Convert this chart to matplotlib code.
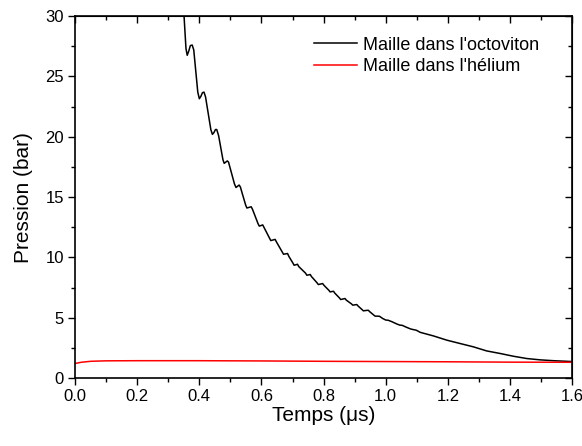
import matplotlib
matplotlib.use("Agg")
import matplotlib.pyplot as plt
from matplotlib.ticker import MultipleLocator, FormatStrFormatter

plt.rcParams['font.family'] = ['Liberation Sans', 'DejaVu Sans']

# Black curve: pressure in the octoviton mesh
octo_t = [0.340, 0.351, 0.357, 0.361, 0.366, 0.371, 0.377, 0.382,
          0.395, 0.400, 0.405, 0.410, 0.415, 0.420,
          0.437, 0.442, 0.447, 0.452, 0.456, 0.462,
          0.476, 0.480, 0.485, 0.490, 0.494,
          0.513, 0.518, 0.523, 0.528, 0.532,
          0.549, 0.553, 0.560, 0.567, 0.571,
          0.589, 0.593, 0.599, 0.604, 0.608,
          0.626, 0.630, 0.637, 0.644, 0.648,
          0.667, 0.671, 0.678, 0.684, 0.688,
          0.701, 0.705, 0.711, 0.716, 0.720,
          0.742, 0.746, 0.752, 0.757, 0.761,
          0.779, 0.783, 0.790, 0.797, 0.801,
          0.817, 0.821, 0.827, 0.832, 0.836,
          0.851, 0.855, 0.862, 0.869, 0.873,
          0.890, 0.894, 0.901, 0.907, 0.911,
          0.924, 0.928, 0.936, 0.944, 0.948,
          0.962, 0.966, 0.973, 0.980,
          0.990, 1.000, 1.008, 1.020, 1.035, 1.045, 1.053, 1.065, 1.080,
          1.090, 1.098, 1.111, 1.154, 1.197, 1.240, 1.282, 1.325, 1.368,
          1.411, 1.454, 1.497, 1.540, 1.600]
octo_p = [32.0, 29.9, 27.3, 26.75, 27.1, 27.55, 27.6, 27.2,
          23.7, 23.15, 23.35, 23.65, 23.7, 23.3,
          20.6, 20.2, 20.35, 20.6, 20.6, 20.1,
          18.1, 17.8, 17.9, 18.0, 17.9,
          16.1, 15.8, 15.9, 16.0, 15.85,
          14.35, 14.1, 14.15, 14.2, 14.0,
          12.8, 12.6, 12.65, 12.7, 12.5,
          11.6, 11.4, 11.45, 11.5, 11.3,
          10.45, 10.27, 10.3, 10.33, 10.1,
          9.55, 9.36, 9.4, 9.44, 9.25,
          8.7, 8.53, 8.56, 8.59, 8.42,
          7.9, 7.76, 7.8, 7.84, 7.7,
          7.28, 7.15, 7.18, 7.2, 7.05,
          6.65, 6.52, 6.56, 6.6, 6.47,
          6.15, 6.05, 6.08, 6.1, 5.98,
          5.68, 5.58, 5.61, 5.63, 5.52,
          5.22, 5.14, 5.14, 5.13,
          4.95, 4.82, 4.80, 4.68, 4.50, 4.40, 4.38, 4.24, 4.08,
          4.02, 3.98, 3.80, 3.50, 3.15, 2.87, 2.60, 2.26, 2.05,
          1.82, 1.63, 1.52, 1.45, 1.38]

# Red curve: pressure in the helium mesh
hel_t = [0.0, 0.02, 0.05, 0.10, 0.20, 0.40, 0.60, 0.80, 1.00, 1.20, 1.40, 1.60]
hel_p = [1.22, 1.32, 1.40, 1.44, 1.45, 1.45, 1.43, 1.40, 1.38, 1.36, 1.33, 1.32]

fig = plt.figure(figsize=(5.82, 4.46), dpi=100)
ax = fig.add_axes([0.129, 0.152, 0.854, 0.812])

ax.plot(octo_t, octo_p, color='black', lw=1.1, label="Maille dans l'octoviton",
        solid_joinstyle='round')
ax.plot(hel_t, hel_p, color='red', lw=1.1, label="Maille dans l'hélium")

ax.set_xlim(0, 1.6)
ax.set_ylim(0, 30)
ax.xaxis.set_major_locator(MultipleLocator(0.2))
ax.xaxis.set_minor_locator(MultipleLocator(0.1))
ax.yaxis.set_major_locator(MultipleLocator(5))
ax.yaxis.set_minor_locator(MultipleLocator(2.5))
ax.xaxis.set_major_formatter(FormatStrFormatter('%.1f'))
ax.tick_params(which='major', direction='out', length=5, width=1, labelsize=12, pad=3)
ax.tick_params(which='minor', direction='out', length=3, width=1)

top = ax.secondary_xaxis('top')
top.xaxis.set_major_locator(MultipleLocator(0.2))
top.xaxis.set_minor_locator(MultipleLocator(0.1))
top.tick_params(which='major', direction='in', length=5, width=1, labeltop=False)
top.tick_params(which='minor', direction='in', length=3, width=1)
right = ax.secondary_yaxis('right')
right.yaxis.set_major_locator(MultipleLocator(5))
right.yaxis.set_minor_locator(MultipleLocator(2.5))
right.tick_params(which='major', direction='in', length=5, width=1, labelright=False)
right.tick_params(which='minor', direction='in', length=3, width=1)

for s in list(ax.spines.values()):
    s.set_linewidth(1.2)

ax.set_xlabel('Temps (\u03bcs)', fontsize=15, labelpad=1)
ax.set_ylabel('Pression (bar)', fontsize=15, labelpad=9)

ax.legend(loc='upper right', bbox_to_anchor=(0.948, 0.963), frameon=False,
          fontsize=13, handlelength=2.4, handletextpad=0.3, labelspacing=0.25,
          borderaxespad=0.0)

fig.savefig('out.png', dpi=100)
